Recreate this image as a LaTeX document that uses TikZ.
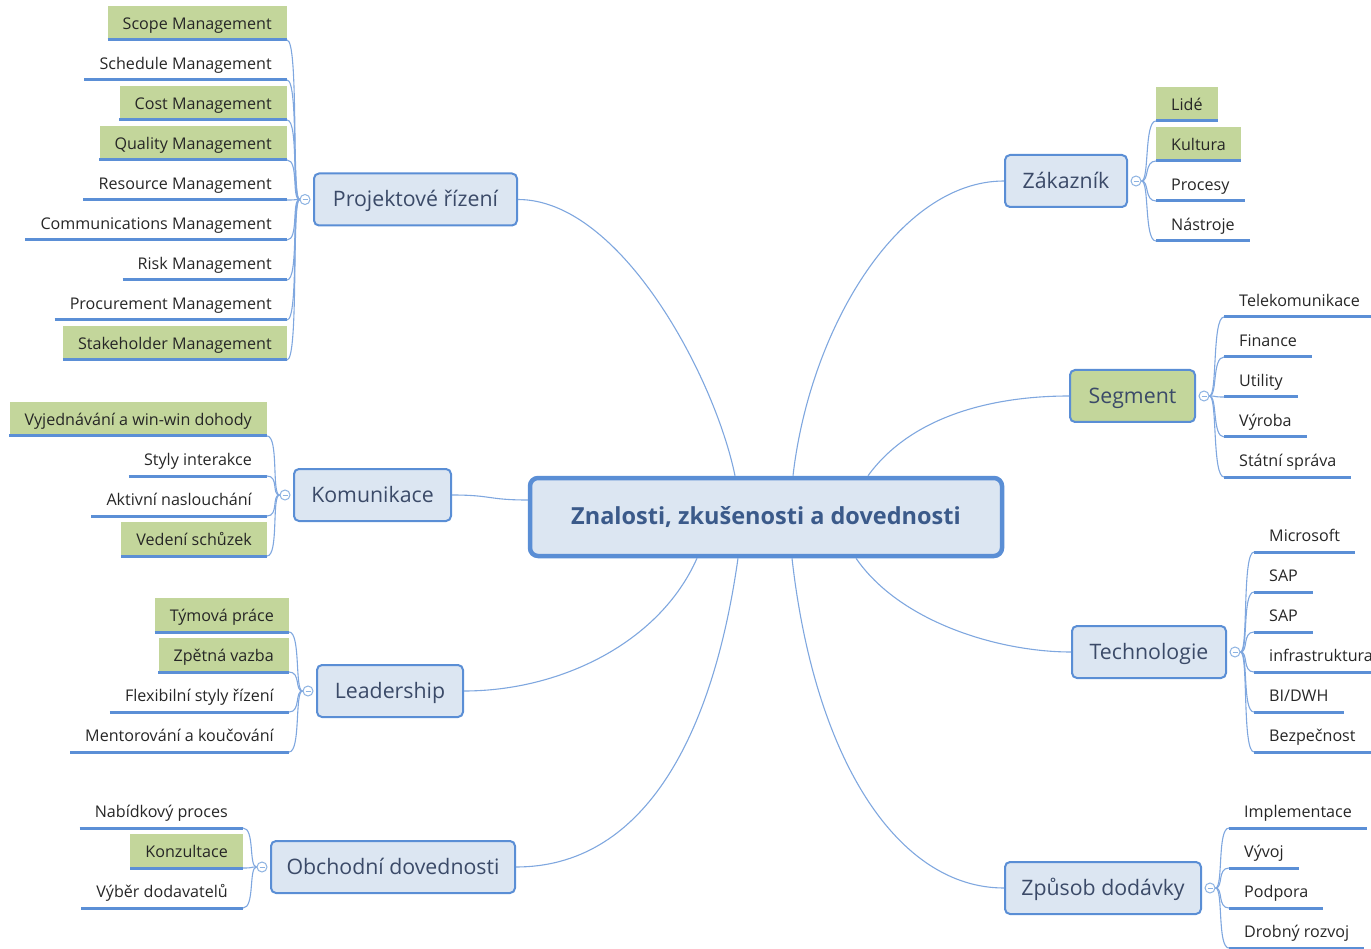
\documentclass[tikz,border=0pt]{standalone}
\usepackage{fontspec}
\setmainfont{Open Sans}
\definecolor{nodefill}{HTML}{DCE6F2}
\definecolor{nodeblue}{HTML}{5A8ED5}
\definecolor{hlgreen}{HTML}{C3D69B}
\definecolor{ulblue}{HTML}{5B8FD6}
\definecolor{connblue}{HTML}{7FA7DF}
\definecolor{togblue}{HTML}{8DB3E2}
\definecolor{leaftext}{HTML}{262626}
\definecolor{topictext}{HTML}{3B4A68}
\definecolor{centraltext}{HTML}{3B5A8A}
\newcommand{\leaffont}{\fontsize{16.1pt}{19pt}\selectfont}
\newcommand{\topicfont}{\fontsize{21.3pt}{25pt}\selectfont}
\newcommand{\centralfont}{\fontsize{23.5pt}{28pt}\selectfont\bfseries}
\tikzset{
  leafL/.style={anchor=south east, font=\leaffont, text=leaftext, inner xsep=15pt, inner ysep=0pt, text height=23.5pt, text depth=10.5pt},
  leafR/.style={leafL, anchor=south west},
  hl/.style={fill=hlgreen},
  uline/.style={draw=ulblue, line width=3pt},
  conn/.style={draw=connblue, line width=1.1pt},
  topic/.style={draw=nodeblue, line width=2pt, fill=nodefill, rounded corners=5pt, minimum height=52pt, font=\topicfont, text=topictext, inner sep=0pt, text height=17pt, text depth=2pt},
  topicg/.style={topic, fill=hlgreen},
  centralbox/.style={draw=nodeblue, line width=4.5pt, fill=nodefill, rounded corners=8pt, minimum width=472pt, minimum height=78pt, font=\centralfont, text=centraltext, text height=18pt, text depth=3pt},
  toggle/.style={circle, draw=togblue, fill=white, line width=1pt, minimum size=10pt, inner sep=0pt},
  minus/.style={draw=togblue, line width=0.9pt}
}
\begin{document}
\begin{tikzpicture}[x=1pt,y=-1pt]
\useasboundingbox (0,0) rectangle (1371,949);

% central and topics
\node[centralbox] (c) at (766,517) {Znalosti, zkušenosti a dovednosti};
\node[topic, minimum width=203pt] (pr) at (415.5,199.5) {Projektové řízení};
\node[topic, minimum width=157pt] (ko) at (372.5,495) {Komunikace};
\node[topic, minimum width=146pt] (le) at (390,691) {Leadership};
\node[topic, minimum width=244pt] (ob) at (393,867) {Obchodní dovednosti};
\node[topic, minimum width=122pt] (za) at (1066,181) {Zákazník};
\node[topicg, minimum width=125pt] (se) at (1132.5,396) {Segment};
\node[topic, minimum width=154pt] (te) at (1149,652) {Technologie};
\node[topic, minimum width=196pt] (zp) at (1103,888) {Způsob dodávky};

% main connectors
\draw[conn] ([xshift=-31pt]c.north) .. controls +(-20,-98) and +(103,0) .. (pr.east);
\draw[conn] ([xshift=27pt]c.north) .. controls +(17,-148) and +(-105,0) .. (za.west);
\draw[conn] ([xshift=102pt]c.north) .. controls +(42,-58) and +(-80,0) .. (se.west);
\draw[conn] ([yshift=17pt]c.west) .. controls +(-40,0) and +(40,0) .. (ko.east);
\draw[conn] ([xshift=-69pt]c.south) .. controls +(-37,84) and +(97,0) .. (le.east);
\draw[conn] ([xshift=-28pt]c.south) .. controls +(-26,184) and +(125,0) .. (ob.east);
\draw[conn] ([xshift=26pt]c.south) .. controls +(23,204) and +(-105,0) .. (zp.west);
\draw[conn] ([xshift=90pt]c.south) .. controls +(44,64) and +(-72,0) .. (te.west);

% toggles
\node[toggle] (tpr) at ([xshift=-8pt]pr.west) {};
\node[toggle] (tko) at ([xshift=-8pt]ko.west) {};
\node[toggle] (tle) at ([xshift=-8pt]le.west) {};
\node[toggle] (tob) at ([xshift=-8pt]ob.west) {};
\node[toggle] (tza) at ([xshift=8pt]za.east) {};
\node[toggle] (tse) at ([xshift=8pt]se.east) {};
\node[toggle] (tte) at ([xshift=8pt]te.east) {};
\node[toggle] (tzp) at ([xshift=8pt]zp.east) {};
\foreach \t in {tpr,tko,tle,tob,tza,tse,tte,tzp}{
  \draw[minus] ([xshift=-2.5pt]\t.center) -- ([xshift=2.5pt]\t.center);
}

% Projektové řízení leaves
\node[leafL,hl] (p1) at (287,40) {Scope Management};
\node[leafL] (p2) at (287,80) {Schedule Management};
\node[leafL,hl] (p3) at (287,120) {Cost Management};
\node[leafL,hl] (p4) at (287,160) {Quality Management};
\node[leafL] (p5) at (287,200) {Resource Management};
\node[leafL] (p6) at (287,240) {Communications Management};
\node[leafL] (p7) at (287,280) {Risk Management};
\node[leafL] (p8) at (287,320) {Procurement Management};
\node[leafL,hl] (p9) at (287,360) {Stakeholder Management};
\foreach \n in {p1,p2,p3,p4,p5,p6,p7,p8,p9}{
  \draw[uline] (\n.south west) -- (\n.south east);
  \draw[conn] (tpr.west) .. controls +(-8,0) and +(12,0) .. (\n.south east);
}

% Komunikace leaves
\node[leafL,hl] (k1) at (267,436) {Vyjednávání a win-win dohody};
\node[leafL] (k2) at (267,476) {Styly interakce};
\node[leafL] (k3) at (267,516) {Aktivní naslouchání};
\node[leafL,hl] (k4) at (267,556) {Vedení schůzek};
\foreach \n in {k1,k2,k3,k4}{
  \draw[uline] (\n.south west) -- (\n.south east);
  \draw[conn] (tko.west) .. controls +(-8,0) and +(12,0) .. (\n.south east);
}

% Leadership leaves
\node[leafL,hl] (l1) at (289,632) {Týmová práce};
\node[leafL,hl] (l2) at (289,672) {Zpětná vazba};
\node[leafL] (l3) at (289,712) {Flexibilní styly řízení};
\node[leafL] (l4) at (289,752) {Mentorování a koučování};
\foreach \n in {l1,l2,l3,l4}{
  \draw[uline] (\n.south west) -- (\n.south east);
  \draw[conn] (tle.west) .. controls +(-8,0) and +(12,0) .. (\n.south east);
}

% Obchodní dovednosti leaves
\node[leafL] (o1) at (243,828) {Nabídkový proces};
\node[leafL,hl] (o2) at (243,868) {Konzultace};
\node[leafL] (o3) at (243,908) {Výběr dodavatelů};
\foreach \n in {o1,o2,o3}{
  \draw[uline] (\n.south west) -- (\n.south east);
  \draw[conn] (tob.west) .. controls +(-8,0) and +(12,0) .. (\n.south east);
}

% Zákazník leaves
\node[leafR,hl] (z1) at (1156,121) {Lidé};
\node[leafR,hl] (z2) at (1156,161) {Kultura};
\node[leafR] (z3) at (1156,201) {Procesy};
\node[leafR] (z4) at (1156,241) {Nástroje};
\foreach \n in {z1,z2,z3,z4}{
  \draw[uline] (\n.south west) -- (\n.south east);
  \draw[conn] (tza.east) .. controls +(8,0) and +(-12,0) .. (\n.south west);
}

% Segment leaves
\node[leafR] (s1) at (1224,317) {Telekomunikace};
\node[leafR] (s2) at (1224,357) {Finance};
\node[leafR] (s3) at (1224,397) {Utility};
\node[leafR] (s4) at (1224,437) {Výroba};
\node[leafR] (s5) at (1224,477) {Státní správa};
\foreach \n in {s1,s2,s3,s4,s5}{
  \draw[uline] (\n.south west) -- (\n.south east);
  \draw[conn] (tse.east) .. controls +(8,0) and +(-12,0) .. (\n.south west);
}

% Technologie leaves
\node[leafR] (t1) at (1254,552) {Microsoft};
\node[leafR] (t2) at (1254,592) {SAP};
\node[leafR] (t3) at (1254,632) {SAP};
\node[leafR] (t4) at (1254,672) {infrastruktura};
\node[leafR] (t5) at (1254,712) {BI/DWH};
\node[leafR] (t6) at (1254,752) {Bezpečnost};
\foreach \n in {t1,t2,t3,t4,t5,t6}{
  \draw[uline] (\n.south west) -- (\n.south east);
  \draw[conn] (tte.east) .. controls +(8,0) and +(-12,0) .. (\n.south west);
}

% Způsob dodávky leaves
\node[leafR] (d1) at (1229,828) {Implementace};
\node[leafR] (d2) at (1229,868) {Vývoj};
\node[leafR] (d3) at (1229,908) {Podpora};
\node[leafR] (d4) at (1229,948) {Drobný rozvoj};
\foreach \n in {d1,d2,d3,d4}{
  \draw[uline] (\n.south west) -- (\n.south east);
  \draw[conn] (tzp.east) .. controls +(8,0) and +(-12,0) .. (\n.south west);
}
\end{tikzpicture}
\end{document}
